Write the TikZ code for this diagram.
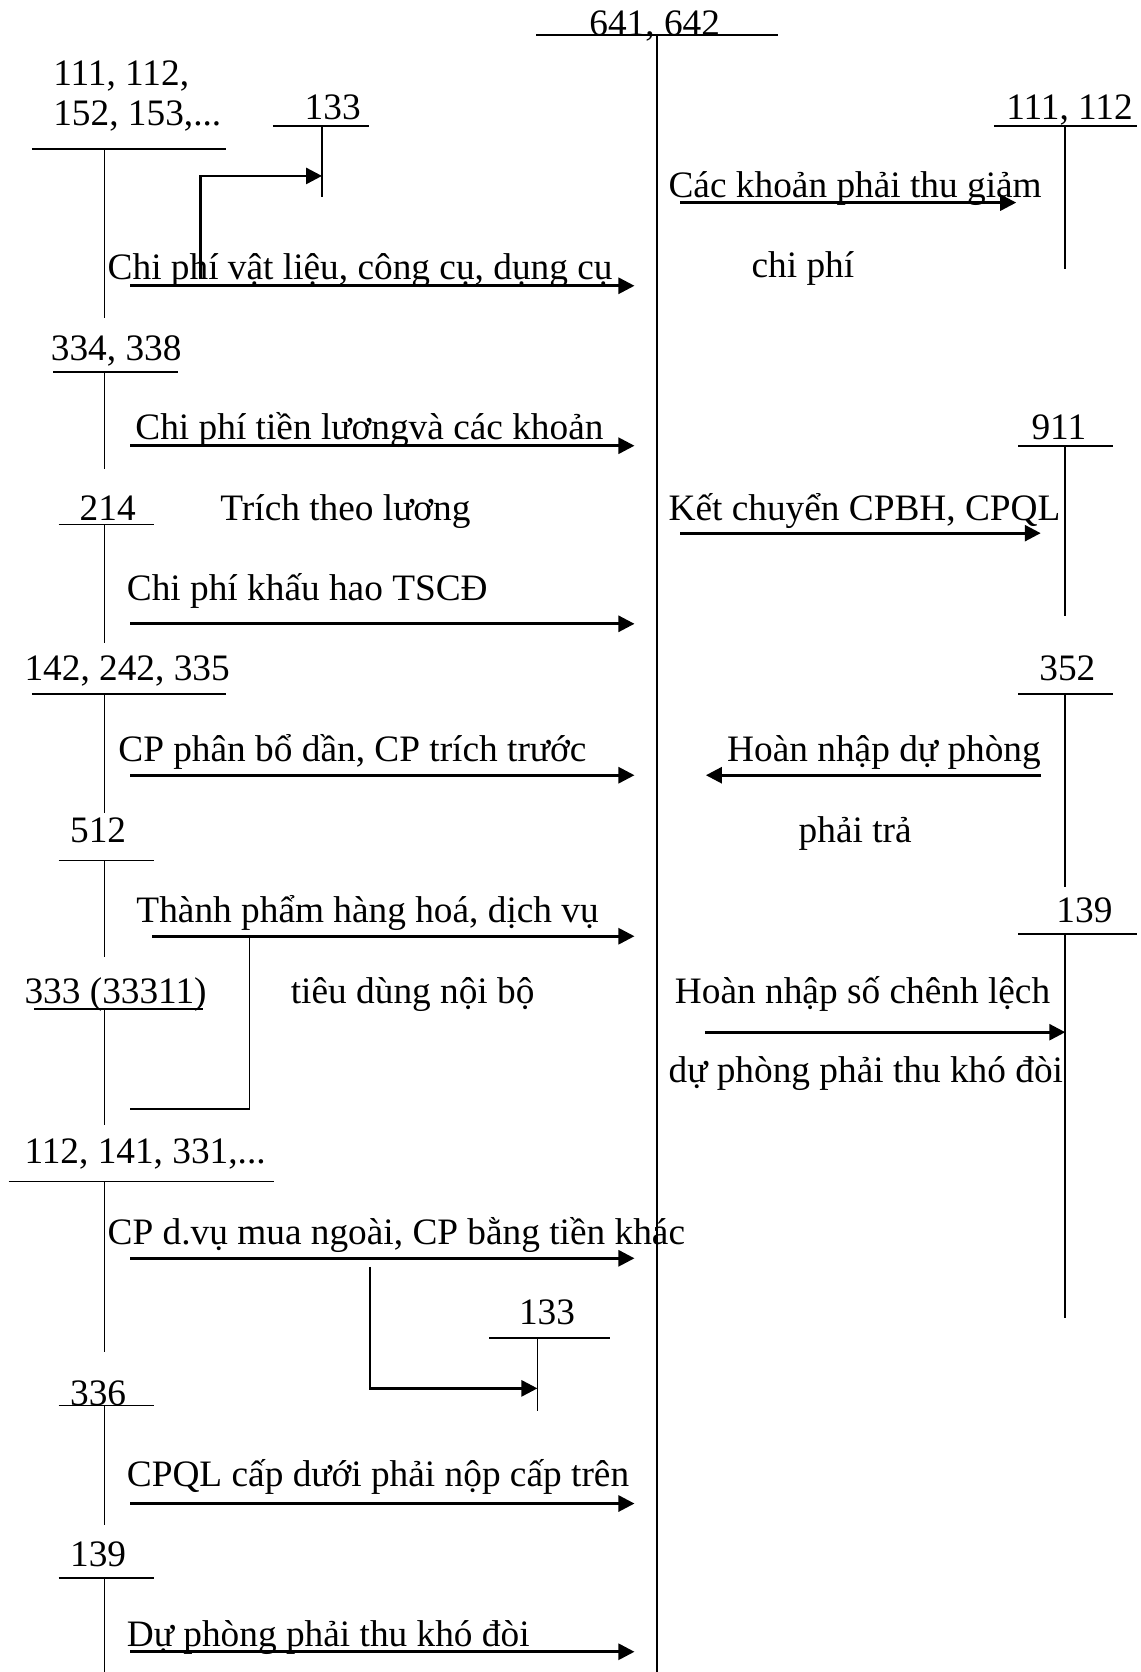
\documentclass[tikz,border=0pt]{standalone}
\usepackage{fontspec}
\setmainfont{Liberation Serif}
\usetikzlibrary{arrows.meta}
\begin{document}
\begin{tikzpicture}[x=0.5pt,y=-0.5pt,
  every node/.style={inner sep=0pt, outer sep=0pt, font=\fontsize{17.5pt}{21pt}\selectfont},
  lbl/.style={anchor=base west, yshift=-1.2pt},
  clbl/.style={anchor=base, yshift=-1.2pt},
  tline/.style={line width=0.8pt},
  flow/.style={line width=1.3pt, -{Triangle[length=7.5pt,width=7.5pt]}}]
\useasboundingbox (0,0) rectangle (1070,1568);

% central account 641, 642
\node[clbl] (c641) at (614,31) {641, 642};
\coordinate (c641l) at (503,33); \coordinate (c641r) at (730,33);
\coordinate (c641t) at (616,33); \coordinate (c641b) at (616,1568);
\draw[tline] (c641l) -- (c641r) (c641t) -- (c641b);

% left accounts
\node[lbl] (a111a) at (50,78) {111, 112,};
\node[lbl] (a111b) at (50,115) {152, 153,...};
\draw[tline] (30,140) -- (212,140) (98,140) -- (98,298);

\node[clbl] (a133) at (312,110) {133};
\coordinate (a133t) at (302,118);
\draw[tline] (256,118) -- (346,118) (a133t) -- (302,185);

\node[clbl] (a334) at (109,336) {334, 338};
\draw[tline] (50,349) -- (167,349) (98,349) -- (98,440);

\node[clbl] (a214) at (101,486) {214};
\draw[tline] (55,492) -- (144,492) (98,492) -- (98,603);

\node[lbl] (a142) at (23,636) {142, 242, 335};
\draw[tline] (30,651) -- (212,651) (98,651) -- (98,762);

\node[clbl] (a512) at (92,788) {512};
\draw[tline] (55,807) -- (144,807) (98,807) -- (98,897);

\node[lbl] (a333) at (23,939) {333 (33311)};
\draw[tline] (32,946) -- (190,946) (98,946) -- (98,1055);

\node[lbl] (a112) at (23,1089) {112, 141, 331,...};
\draw[tline] (8,1108) -- (257,1108) (98,1108) -- (98,1268);

\node[clbl] (b133) at (513,1240) {133};
\coordinate (b133t) at (504,1255);
\draw[tline] (459,1255) -- (572,1255) (b133t) -- (504,1323);

\node[clbl] (a336) at (92,1316) {336};
\draw[tline] (55,1318) -- (144,1318) (98,1318) -- (98,1430);

\node[clbl] (a139) at (92,1467) {139};
\draw[tline] (55,1480) -- (144,1480) (98,1480) -- (98,1568);

% right accounts
\node[clbl] (r111) at (1003,110) {111, 112};
\draw[tline] (932,118) -- (1066,118) (999,118) -- (999,252);

\node[clbl] (r911) at (993,410) {911};
\draw[tline] (955,418) -- (1044,418) (999,418) -- (999,578);

\node[clbl] (r352) at (1001,636) {352};
\draw[tline] (955,651) -- (1044,651) (999,651) -- (999,832);

\node[clbl] (r139) at (1017,863) {139};
\draw[tline] (955,876) -- (1066,876) (999,876) -- (999,1236);

% left flows
\node[lbl] (t1) at (101,260) {Chi phí vật liệu, công cụ, dụng cụ};
\coordinate (f1s) at (122,268); \coordinate (f1e) at (595,268);
\draw[flow] (f1s) -- (f1e);
\coordinate (g1s) at (188,262); \coordinate (g1e) at (302,165);
\draw[flow] (g1s) |- (g1e);

\node[lbl] (t2) at (127,410) {Chi phí tiền lươngvà các khoản};
\node[clbl] (t2b) at (324,486) {Trích theo lương};
\coordinate (f2s) at (122,418); \coordinate (f2e) at (595,418);
\draw[flow] (f2s) -- (f2e);

\node[lbl] (t3) at (119,561) {Chi phí khấu hao TSCĐ};
\coordinate (f3s) at (122,585); \coordinate (f3e) at (595,585);
\draw[flow] (f3s) -- (f3e);

\node[lbl] (t4) at (111,712) {CP phân bổ dần, CP trích trước};
\coordinate (f4s) at (122,727); \coordinate (f4e) at (595,727);
\draw[flow] (f4s) -- (f4e);

\node[lbl] (t5) at (128,863) {Thành phẩm hàng hoá, dịch vụ};
\node[clbl] (t5b) at (387,939) {tiêu dùng nội bộ};
\coordinate (f5s) at (143,878); \coordinate (f5e) at (595,878);
\draw[flow] (f5s) -- (f5e);
\coordinate (g5s) at (234,878); \coordinate (g5m) at (234,1040); \coordinate (g5e) at (122,1040);
\draw[tline] (g5s) -- (g5m) -- (g5e);

\node[lbl] (t6) at (101,1165) {CP d.vụ mua ngoài, CP bằng tiền khác};
\coordinate (f6s) at (122,1180); \coordinate (f6e) at (595,1180);
\draw[flow] (f6s) -- (f6e);
\coordinate (g6s) at (347,1188); \coordinate (g6e) at (504,1302);
\draw[flow] (g6s) |- (g6e);

\node[lbl] (t7) at (119,1392) {CPQL cấp dưới phải nộp cấp trên};
\coordinate (f7s) at (122,1410); \coordinate (f7e) at (595,1410);
\draw[flow] (f7s) -- (f7e);

\node[lbl] (t8) at (119,1542) {Dự phòng phải thu khó đòi};
\coordinate (f8s) at (122,1549); \coordinate (f8e) at (595,1549);
\draw[flow] (f8s) -- (f8e);

% right flows
\node[lbl] (u1) at (627,183) {Các khoản phải thu giảm};
\node[clbl] (u1b) at (753,258) {chi phí};
\coordinate (h1s) at (638,190); \coordinate (h1e) at (953,190);
\draw[flow] (h1s) -- (h1e);

\node[lbl] (u2) at (627,486) {Kết chuyển CPBH, CPQL};
\coordinate (h2s) at (638,500); \coordinate (h2e) at (976,500);
\draw[flow] (h2s) -- (h2e);

\node[lbl] (u3) at (682,712) {Hoàn nhập dự phòng};
\node[clbl] (u3b) at (802,788) {phải trả};
\coordinate (h3s) at (976,727); \coordinate (h3e) at (662,727);
\draw[flow] (h3s) -- (h3e);

\node[lbl] (u4) at (633,939) {Hoàn nhập số chênh lệch};
\node[lbl] (u4b) at (627,1013) {dự phòng phải thu khó đòi};
\coordinate (h4s) at (661,968); \coordinate (h4e) at (999,968);
\draw[flow] (h4s) -- (h4e);
\end{tikzpicture}
\end{document}
